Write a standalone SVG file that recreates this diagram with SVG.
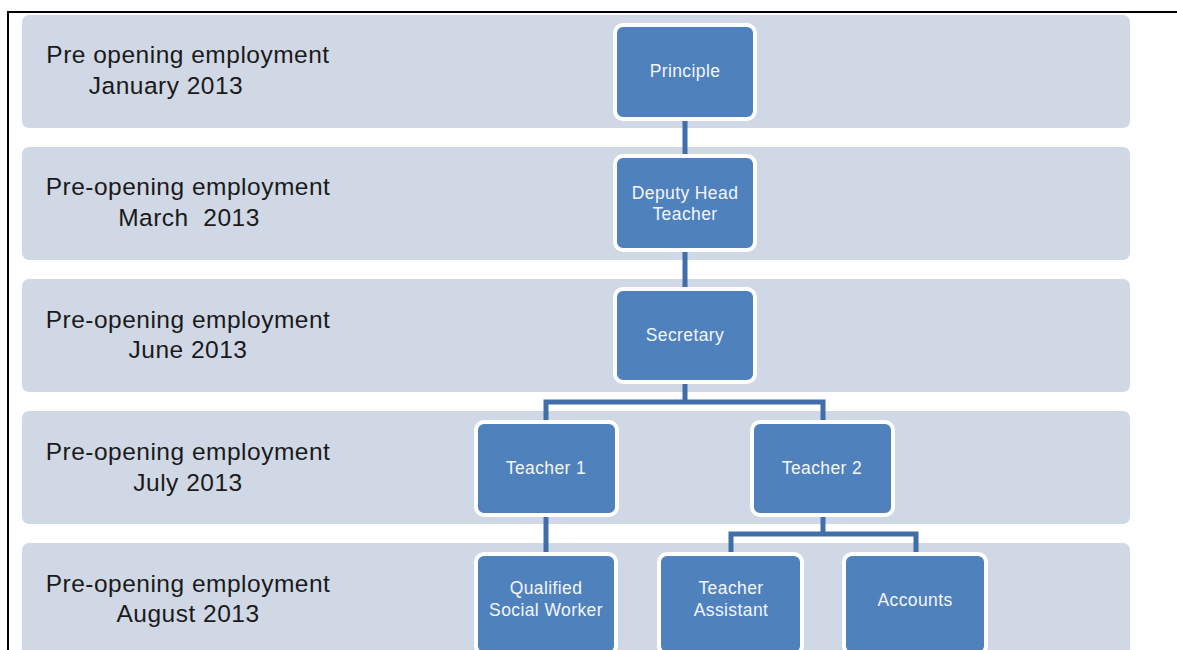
<svg xmlns="http://www.w3.org/2000/svg" width="1177" height="650" viewBox="0 0 1177 650">
  <style>
    .band { fill: #D0D7E5; }
    .frame { stroke: #000; stroke-width: 2; fill: none; }
    .lbl { font-family: "Liberation Sans", Arial, sans-serif; font-size: 24.5px; letter-spacing: 0.5px; fill: #1a1a1a; text-anchor: middle; white-space: pre; }
    .box { fill: #4F81BD; stroke: #fff; stroke-width: 4; }
    .txt { font-family: "Liberation Sans", Arial, sans-serif; font-size: 17.5px; letter-spacing: 0.4px; fill: #F4F6FA; text-anchor: middle; }
    .conn { stroke: #3F6EA8; stroke-width: 5; fill: none; stroke-linejoin: miter; }
  </style>

  <rect width="1177" height="650" fill="#fff"/>
  <!-- page frame -->
  <path class="frame" d="M8 650 V12 H1177"/>

  <!-- timeline bands -->
  <g id="bands">
    <rect class="band" x="22" y="15" width="1108" height="113" rx="7"/>
    <rect class="band" x="22" y="147" width="1108" height="113" rx="7"/>
    <rect class="band" x="22" y="279" width="1108" height="113" rx="7"/>
    <rect class="band" x="22" y="411" width="1108" height="113" rx="7"/>
    <rect class="band" x="22" y="543" width="1108" height="120" rx="7"/>
  </g>

  <g id="labels">
    <text class="lbl" x="188" y="63">Pre opening employment</text>
    <text class="lbl" x="166" y="94">January 2013</text>
    <text class="lbl" x="188" y="195">Pre-opening employment</text>
    <text class="lbl" x="189" y="226">March  2013</text>
    <text class="lbl" x="188" y="328">Pre-opening employment</text>
    <text class="lbl" x="188" y="358">June 2013</text>
    <text class="lbl" x="188" y="460">Pre-opening employment</text>
    <text class="lbl" x="188" y="491">July 2013</text>
    <text class="lbl" x="188" y="592">Pre-opening employment</text>
    <text class="lbl" x="188" y="622">August 2013</text>
  </g>

  <!-- reporting lines -->
  <g id="connectors">
    <path class="conn" d="M685 120 V155"/>
    <path class="conn" d="M685 250 V288"/>
    <path class="conn" d="M685 381 V402 M546 421 V402 H823 V421"/>
    <path class="conn" d="M546 516 V553"/>
    <path class="conn" d="M823 516 V534 M731 553 V534 H916 V553"/>
  </g>

  <g id="principle">
    <rect class="box" x="615" y="25" width="140" height="94" rx="8"/>
    <text class="txt" x="685" y="77">Principle</text>
  </g>
  <g id="deputy-head">
    <rect class="box" x="615" y="156" width="140" height="94" rx="8"/>
    <text class="txt" x="685" y="199">Deputy Head</text>
    <text class="txt" x="685" y="220">Teacher</text>
  </g>
  <g id="secretary">
    <rect class="box" x="615" y="289" width="140" height="93" rx="8"/>
    <text class="txt" x="685" y="341">Secretary</text>
  </g>
  <g id="teacher-1">
    <rect class="box" x="476" y="422" width="141" height="93" rx="8"/>
    <text class="txt" x="546" y="474">Teacher 1</text>
  </g>
  <g id="teacher-2">
    <rect class="box" x="752" y="422" width="141" height="93" rx="8"/>
    <text class="txt" x="822" y="474">Teacher 2</text>
  </g>
  <g id="social-worker">
    <rect class="box" x="476" y="554" width="140" height="100" rx="8"/>
    <text class="txt" x="546" y="594">Qualified</text>
    <text class="txt" x="546" y="616">Social Worker</text>
  </g>
  <g id="teacher-assistant">
    <rect class="box" x="659" y="554" width="143" height="100" rx="8"/>
    <text class="txt" x="731" y="594">Teacher</text>
    <text class="txt" x="731" y="616">Assistant</text>
  </g>
  <g id="accounts">
    <rect class="box" x="844" y="554" width="142" height="100" rx="8"/>
    <text class="txt" x="915" y="606">Accounts</text>
  </g>
</svg>
